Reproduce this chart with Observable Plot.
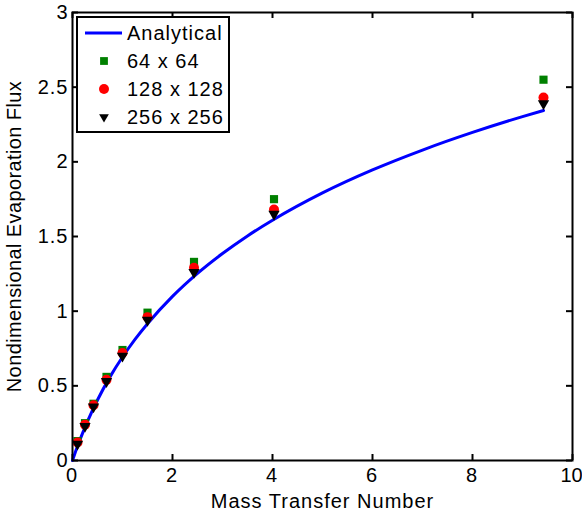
<!DOCTYPE html>
<html><head><meta charset="utf-8">
<script src="https://cdn.jsdelivr.net/npm/d3@7"></script>
<script src="https://cdn.jsdelivr.net/npm/@observablehq/plot@0.6"></script>
<style>
body{margin:0;background:#fff;}
#chart{position:relative;width:582px;height:515px;}
#chart svg text{letter-spacing:1px;}
#chart svg g[aria-label="y-axis label"] text{letter-spacing:0.4px;}
#chart svg g[aria-label="x-axis tick label"] text{letter-spacing:0;}
</style></head>
<body><div id="chart"></div>
<script>
// Data
const massTransfer = [0.1, 0.25, 0.42, 0.68, 1.0, 1.5, 2.43, 4.03, 9.42];
const flux64  = [0.13, 0.25, 0.38, 0.56, 0.74, 0.99, 1.33, 1.75, 2.55];
const flux128 = [0.12, 0.24, 0.37, 0.54, 0.72, 0.96, 1.29, 1.68, 2.43];
const flux256 = [0.11, 0.23, 0.36, 0.53, 0.70, 0.94, 1.26, 1.65, 2.39];
const analyticalB = [0, 0.05, 0.1, 0.2, 0.3, 0.5, 0.75, 1, 1.25, 1.5, 2, 2.5, 3, 3.5, 4, 5, 6, 7, 8, 9, 9.42];
const analyticalF = [0, 0.049, 0.095, 0.182, 0.262, 0.405, 0.56, 0.693, 0.811, 0.916, 1.099, 1.253, 1.386, 1.504, 1.609, 1.792, 1.946, 2.079, 2.197, 2.303, 2.344];
const xTicks = [0, 2, 4, 6, 8, 10];
const yTicks = [0, 0.5, 1, 1.5, 2, 2.5, 3];
const seriesNames = ["Analytical", "64 x 64", "128 x 128", "256 x 256"];

const curve = analyticalB.map((b, i) => ({b, f: analyticalF[i]}));
const pts = (arr) => massTransfer.map((b, i) => ({b, f: arr[i]}));

const W = 582, H = 515, mL = 72, mR = 10, mT = 12, mB = 55;
const innerW = W - mL - mR, innerH = H - mT - mB, tk = 6;
const font = "'Liberation Sans', Arial, Helvetica, sans-serif";

const chart = Plot.plot({
  width: W, height: H,
  marginLeft: mL, marginRight: mR, marginTop: mT, marginBottom: mB,
  style: {fontFamily: font, fontSize: "20px", color: "#000", background: "#fff"},
  x: {domain: [0, 10]},
  y: {domain: [0, 3]},
  marks: [
    Plot.axisX({ticks: xTicks, tickSize: 0, tickPadding: 7, tickFormat: d => String(d), dx: -1,
      label: null, fontSize: 20}),
    Plot.axisX({ticks: [], tickSize: 0,
      label: "Mass Transfer Number", labelAnchor: "center", labelOffset: 47, labelArrow: "none", fontSize: 20}),
    Plot.axisY({ticks: yTicks, tickSize: 0, tickPadding: 4, tickFormat: d => String(d),
      label: "Nondimensional Evaporation Flux", labelAnchor: "center", labelOffset: 66, labelArrow: "none", fontSize: 20}),
    Plot.tickX(xTicks, {x: d => d, insetTop: innerH - tk, stroke: "#000", strokeWidth: 2}),
    Plot.tickX(xTicks, {x: d => d, insetBottom: innerH - tk, stroke: "#000", strokeWidth: 2}),
    Plot.tickY(yTicks, {y: d => d, insetRight: innerW - tk, stroke: "#000", strokeWidth: 2}),
    Plot.tickY(yTicks, {y: d => d, insetLeft: innerW - tk, stroke: "#000", strokeWidth: 2}),
    Plot.line(curve, {x: "b", y: "f", stroke: "#0000ff", strokeWidth: 3, curve: "monotone-x"}),
    Plot.dot(pts(flux64), {x: "b", y: "f", symbol: "square", r: 4.6, fill: "#008000", stroke: "none"}),
    Plot.dot(pts(flux128), {x: "b", y: "f", symbol: "circle", r: 5, fill: "#ff0000", stroke: "none"}),
    Plot.dot(pts(flux256), {x: "b", y: "f", symbol: "triangle", r: 4.2, rotate: 180, fill: "#000", stroke: "none"}),
    Plot.frame({stroke: "#000", strokeWidth: 2})
  ]
});
document.getElementById("chart").appendChild(chart);

// Legend box inside the plot (upper left)
const svg = d3.select(chart);
const lg = svg.append("g").attr("transform", "translate(77,17)").attr("text-anchor", "start");
lg.append("rect").attr("width", 152).attr("height", 115).attr("fill", "#fff").attr("stroke", "#000").attr("stroke-width", 2);
const rowY = [16, 44, 72, 100];
lg.append("line").attr("x1", 8).attr("x2", 45).attr("y1", rowY[0]).attr("y2", rowY[0]).attr("stroke", "#0000ff").attr("stroke-width", 3);
lg.append("path").attr("d", d3.symbol(d3.symbolSquare, Math.PI * 4.4 * 4.4)()).attr("transform", `translate(27,${rowY[1]})`).attr("fill", "#008000");
lg.append("path").attr("d", d3.symbol(d3.symbolCircle, Math.PI * 5 * 5)()).attr("transform", `translate(27,${rowY[2]})`).attr("fill", "#ff0000");
lg.append("path").attr("d", d3.symbol(d3.symbolTriangle, Math.PI * 3.6 * 3.6)()).attr("transform", `translate(27,${rowY[3]}) rotate(180)`).attr("fill", "#000");
seriesNames.forEach((n, i) => {
  lg.append("text").attr("x", 50).attr("y", rowY[i]).attr("dy", "0.36em")
    .attr("text-anchor", "start")
    .attr("font-family", font).attr("font-size", 20).attr("fill", "#000").text(n);
});
</script></body></html>
